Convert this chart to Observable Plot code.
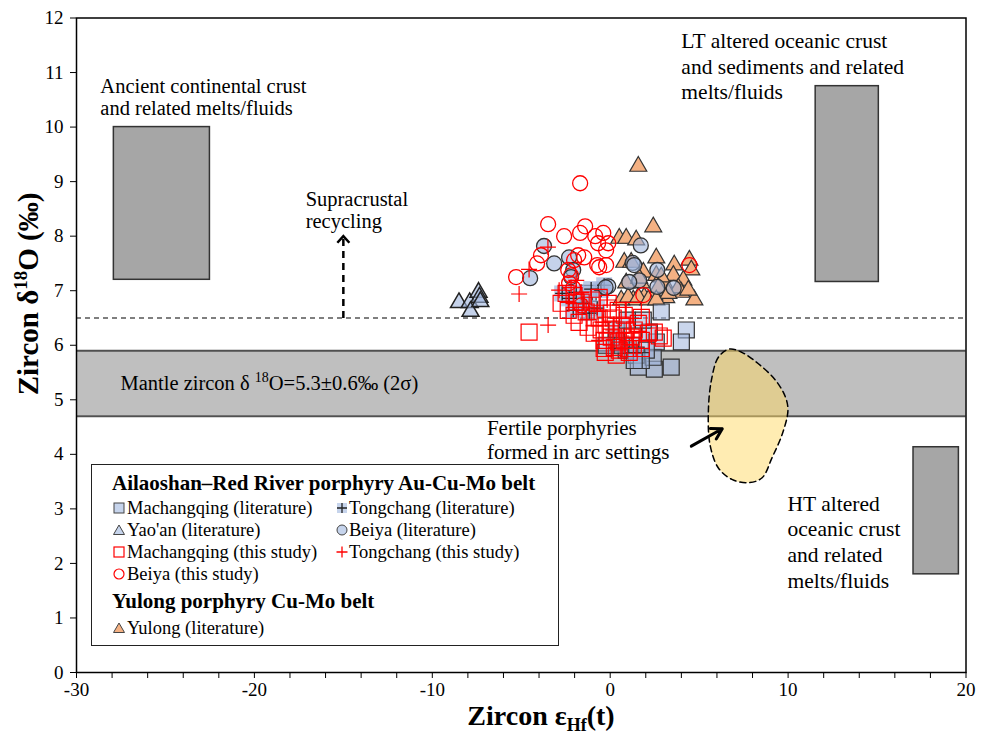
<!DOCTYPE html>
<html><head><meta charset="utf-8">
<script src="https://cdn.jsdelivr.net/npm/d3@7"></script>
<script src="https://cdn.jsdelivr.net/npm/@observablehq/plot@0.6"></script>
<style>
body{margin:0;background:#fff;}
#wrap{position:relative;width:986px;height:737px;font-family:"Liberation Serif","Times New Roman",serif;color:#000;}
#legend{position:absolute;left:91px;top:464px;width:466px;height:180px;border:1.5px solid #222;background:#fff;}
#legend .t{position:absolute;font-weight:bold;font-size:21px;white-space:nowrap;line-height:1;transform:translateY(-50%);}
#legend .i{position:absolute;font-size:18.5px;white-space:nowrap;line-height:1;transform:translateY(-50%);}
#legend svg{position:absolute;overflow:visible;}
</style></head><body>
<div id="wrap"></div>
<script>
const FONT = '"Liberation Serif","Times New Roman",serif';

// ---------------- data (εHf(t), δ18O) ----------------
const yulongLit = [[1.58,9.28],[2.42,8.17],[0.51,7.96],[0.90,7.96],[1.46,7.93],[2.59,7.60],[0.79,7.52],[1.18,7.52],[3.60,7.47],[4.45,7.56],[4.56,7.38],[1.86,7.34],[2.59,7.28],[3.55,7.28],[4.11,7.19],[0.90,7.14],[1.75,7.14],[3.04,7.14],[4.00,6.97],[4.73,6.83],[3.15,6.87],[2.48,6.92],[1.91,6.88],[1.30,6.83],[0.62,6.83],[1.63,7.23],[2.87,7.25],[2.70,7.06],[3.83,7.05],[1.01,6.88],[1.58,6.88],[2.14,6.83],[3.27,6.95],[4.39,7.01],[2.59,6.83]];
const yaoanLit = [[-8.5,6.78],[-7.9,6.78],[-7.85,6.62],[-7.4,6.97],[-7.35,6.88],[-7.3,6.8]];
const machangqingLit = [[4.28,6.28],[4.0,6.06],[3.43,5.60],[2.48,5.56],[1.58,5.60],[2.42,5.78],[2.59,6.06],[2.20,6.24],[1.86,6.46],[2.87,6.61],[0.90,5.91],[1.18,6.0],[0.62,6.0],[0.34,6.09],[-1.24,6.95],[-1.46,6.73],[2.03,5.91],[1.46,5.82],[1.75,5.72],[1.35,5.72],[0.34,6.28],[0.96,6.46],[-0.23,6.0]];
const tongchangLit = [[-2.70,6.95],[-2.31,6.86],[-1.91,6.97],[-1.52,6.77],[-1.07,7.03],[-0.51,7.01],[-1.18,6.59],[-0.73,6.68],[-0.34,7.10],[-2.08,6.64]];
const beiyaLit = [[-3.72,7.82],[-4.50,7.23],[-3.15,7.50],[-2.31,7.61],[-2.08,7.38],[-2.20,7.25],[-0.11,7.08],[1.72,7.83],[1.26,7.51],[2.65,7.38],[3.57,7.05],[2.65,7.07],[1.63,7.19],[1.07,7.16],[1.35,7.47],[-0.26,7.06]];
const machangqingThis = [[-2.48,6.95],[-2.03,6.91],[-1.63,6.79],[-1.07,6.83],[-0.62,6.88],[-0.11,6.77],[0.06,6.59],[0.45,6.64],[0.79,6.55],[-1.75,6.42],[-1.24,6.33],[-0.90,6.22],[-0.51,6.28],[-0.34,6.09],[0.06,6.15],[0.45,6.06],[0.79,6.09],[1.18,6.15],[1.35,6.28],[-0.34,5.94],[0.23,5.96],[1.01,5.94],[1.75,6.09],[2.14,6.22],[2.48,6.24],[-2.76,6.77],[-2.36,6.64],[-2.03,6.55],[-0.90,6.50],[0.62,6.37],[1.58,6.40],[1.75,6.51],[1.30,6.64],[-4.56,6.24],[2.76,6.17],[2.98,6.13],[-1.91,6.79],[-1.35,6.61],[-0.62,6.50],[-0.23,6.37],[0.17,6.50],[0.90,6.28],[0.51,5.91],[1.30,6.0],[-0.28,5.87],[0.34,5.82],[1.07,5.87],[1.75,5.94]];
const tongchangThis = [[-4.56,7.39],[-5.12,6.94],[-3.49,6.37],[-2.87,7.01],[-1.91,7.19],[-3.5,7.8],[-2.20,7.06],[-1.63,6.97],[-1.07,6.88],[-1.35,6.70],[-0.73,6.62],[-0.39,6.42],[-0.17,6.83],[0.17,6.28],[0.62,6.17],[1.18,6.22],[-0.62,6.09]];
const beiyaThis = [[-1.69,8.97],[-3.49,8.22],[-2.59,8.00],[-1.41,8.18],[-0.84,8.00],[-0.68,7.87],[-1.69,8.06],[-3.89,7.65],[-4.11,7.50],[-5.29,7.25],[-1.80,7.65],[-2.36,7.38],[-2.20,7.28],[-0.62,7.43],[-0.23,7.74],[-2.31,7.14],[-2.08,7.05],[-0.39,8.06],[-0.11,7.87],[-0.23,7.47],[4.45,7.47],[1.86,6.92],[-1.46,7.61],[-0.73,7.47],[-2.03,7.56],[-1.63,6.73]];

// reference fields
const reservoirs = [
  {x1:-27.9, x2:-22.5, y1:7.2, y2:10.0},
  {x1:11.55, x2:15.1, y1:7.16, y2:10.75},
  {x1:17.05, x2:19.6, y1:1.8, y2:4.13}
];
const mantleBand = [{x1:-30, x2:20, y1:4.7, y2:5.9}];
const supraLevel = [6.5];
const fertileBlob = [[6.69,5.93],[6.08,5.78],[5.69,5.36],[5.52,4.80],[5.61,4.18],[6.08,3.75],[6.84,3.54],[7.77,3.48],[8.54,3.57],[9.10,3.94],[9.67,4.37],[9.99,4.80],[9.85,5.05],[9.29,5.36],[8.33,5.66],[7.40,5.87]];
const fertileArrow = [{x1:4.56, y1:4.15, x2:6.3, y2:4.47}];
const supraArrow = [{x:-15, y1:6.5, y2:7.95}];
const supraHead = [{x:-15, y:8.0}];

// annotations
const notes = [
  {x:-28.66, y:10.55, text:"Ancient continental crust\nand related melts/fluids", lh:1.05, fs:20.5},
  {x:-17.12, y:8.48, text:"Supracrustal\nrecycling", lh:1.05, fs:20.5},
  {x:4.0, y:11.13, text:"LT altered oceanic crust\nand sediments and related\nmelts/fluids", lh:1.19, fs:21.5},
  {x:-6.93, y:4.27, text:"Fertile porphyries\nformed in arc settings", lh:1.1, fs:21},
  {x:9.97, y:2.41, text:"HT altered\noceanic crust\nand related\nmelts/fluids", lh:1.19, fs:21.5}
];
const mantleNote = [{x:-27.53, y:5.30, text:"Mantle zircon δ ^18O=5.3±0.6‰ (2σ)"}];

const xTicks = d3.range(-30, 21, 2);
const yTicks = d3.range(0, 13, 1);

// ---------------- symbols ----------------
const plusSym = {draw(ctx, size){const r = Math.sqrt(size/Math.PI); ctx.moveTo(-r,0); ctx.lineTo(r,0); ctx.moveTo(0,-r); ctx.lineTo(0,r);}};
const chevron = {draw(ctx, size){const r = Math.sqrt(size/Math.PI); ctx.moveTo(-r,r*1.1); ctx.lineTo(0,0); ctx.lineTo(r,r*1.1);}};

const X = d => d[0], Y = d => d[1];
const BLUE = "#9fb4dc";

const noteMarks = notes.map(n => Plot.text([n], {x:"x", y:"y", text:"text", textAnchor:"start", lineAnchor:"middle", lineHeight:n.lh, fontSize:n.fs, fill:"#000"}));

const chart = Plot.plot({
  width: 986, height: 737,
  marginLeft: 76, marginRight: 20.5, marginTop: 17.5, marginBottom: 65,
  style: {fontFamily: FONT, fontSize: "19px", color: "#000", background: "#fff", overflow: "visible"},
  x: {domain: [-30, 20]},
  y: {domain: [0, 12]},
  marks: [
    Plot.rect(mantleBand, {x1:"x1", x2:"x2", y1:"y1", y2:"y2", fill:"#bfbfbf"}),
    Plot.ruleY(mantleBand.flatMap(d => [d.y1, d.y2]), {stroke:"#505050", strokeWidth:2}),
    Plot.rect(reservoirs, {x1:"x1", x2:"x2", y1:"y1", y2:"y2", fill:"#a6a6a6", stroke:"#333", strokeWidth:1.5}),
    Plot.ruleY(supraLevel, {stroke:"#000", strokeWidth:1.2, strokeDasharray:"5,4"}),
    Plot.line(fertileBlob, {x:X, y:Y, curve:"catmull-rom-closed", fill:"#ffd966", fillOpacity:0.5, stroke:"#000", strokeWidth:1.5, strokeDasharray:"6,4"}),
    Plot.arrow(fertileArrow, {x1:"x1", y1:"y1", x2:"x2", y2:"y2", stroke:"#000", strokeWidth:3, headLength:6}),
    Plot.link(supraArrow, {x1:"x", x2:"x", y1:"y1", y2:"y2", stroke:"#000", strokeWidth:2.5, strokeDasharray:"7,5"}),
    Plot.dot(supraHead, {x:"x", y:"y", symbol:chevron, r:6, stroke:"#000", strokeWidth:2.5, fill:"none"}),
    ...noteMarks,
    Plot.text(mantleNote, {x:"x", y:"y", text:"text", textAnchor:"start", fontSize:20.5, fill:"#000"}),
    // data
    Plot.dot(yulongLit, {x:X, y:Y, symbol:"triangle", r:6.3, fill:"#f4b183", stroke:"#333", strokeWidth:1.2}),
    Plot.dot(yaoanLit, {x:X, y:Y, symbol:"triangle", r:6.3, fill:BLUE, fillOpacity:0.6, stroke:"#222", strokeWidth:1.5}),
    Plot.dot(machangqingLit, {x:X, y:Y, symbol:"square", r:9, fill:BLUE, fillOpacity:0.55, stroke:"#333", strokeWidth:1.2}),
    Plot.dot(tongchangLit, {x:X, y:Y, symbol:"square", r:9, fill:BLUE, fillOpacity:0.7, stroke:"none"}),
    Plot.dot(tongchangLit, {x:X, y:Y, symbol:plusSym, r:7, stroke:"#222", strokeWidth:1.3, fill:"none"}),
    Plot.dot(beiyaLit, {x:X, y:Y, symbol:"circle", r:7.5, fill:BLUE, fillOpacity:0.6, stroke:"#333", strokeWidth:1.3}),
    Plot.dot(machangqingThis, {x:X, y:Y, symbol:"square", r:9, fill:"none", stroke:"#ff0000", strokeWidth:1.2}),
    Plot.dot(tongchangThis, {x:X, y:Y, symbol:plusSym, r:8, fill:"none", stroke:"#ff0000", strokeWidth:1.2}),
    Plot.dot(beiyaThis, {x:X, y:Y, symbol:"circle", r:7.5, fill:"none", stroke:"#ff0000", strokeWidth:1.3}),
    // axes
    Plot.frame({stroke:"#000", strokeWidth:1.5}),
    Plot.axisX({ticks:xTicks, tickFormat:d => d % 10 === 0 ? String(d) : "", tickSize:6, tickPadding:4, fontSize:19, label:null}),
    Plot.axisY({ticks:yTicks, tickFormat:d => String(d), tickSize:6, tickPadding:7, fontSize:19, label:null})
  ]
});

const wrap = document.getElementById("wrap");
wrap.appendChild(chart);
const svg = d3.select(chart);

// superscripts written as ^NN
svg.selectAll("text").each(function(){
  const t = this.textContent;
  if (!t.includes("^")) return;
  const m = t.match(/^(.*)\^(\d+)(.*)$/);
  const sel = d3.select(this);
  sel.text(null);
  sel.append("tspan").text(m[1]);
  sel.append("tspan").attr("font-size", 14).attr("dy", -8).text(m[2]);
  sel.append("tspan").attr("dy", 8).text(m[3]);
});

// axis titles
const yt = svg.append("text").attr("transform", "translate(38,294) rotate(-90)")
  .attr("text-anchor", "middle").attr("font-weight", "bold").attr("font-size", 29).attr("fill", "#000");
yt.append("tspan").text("Zircon δ");
yt.append("tspan").attr("font-size", 19).attr("dy", -11).text("18");
yt.append("tspan").attr("dy", 11).text("O (‰)");
const xt = svg.append("text").attr("x", 541).attr("y", 725)
  .attr("text-anchor", "middle").attr("font-weight", "bold").attr("font-size", 28).attr("fill", "#000");
xt.append("tspan").text("Zircon ε");
xt.append("tspan").attr("font-size", 18).attr("dy", 6).text("Hf");
xt.append("tspan").attr("dy", -6).text("(t)");

// ---------------- legend ----------------
const legendGroups = [
  {title:"Ailaoshan–Red River porphyry Au-Cu-Mo belt", y:18, items:[
    {label:"Machangqing (literature)", sym:"sqBlue", col:0, y:43},
    {label:"Tongchang (literature)", sym:"plusBlue", col:1, y:43},
    {label:"Yao'an (literature)", sym:"triBlue", col:0, y:65},
    {label:"Beiya (literature)", sym:"cirBlue", col:1, y:65},
    {label:"Machangqing (this study)", sym:"sqRed", col:0, y:87},
    {label:"Tongchang (this study)", sym:"plusRed", col:1, y:87},
    {label:"Beiya (this study)", sym:"cirRed", col:0, y:109}
  ]},
  {title:"Yulong porphyry Cu-Mo belt", y:136, items:[
    {label:"Yulong (literature)", sym:"triOrange", col:0, y:163}
  ]}
];
const colSym = [27, 250], colText = [35, 257];
const symSvg = {
  sqBlue: '<rect x="-5" y="-5" width="10" height="10" fill="#c6d4ec" stroke="#444" stroke-width="1"/>',
  plusBlue: '<rect x="-5" y="-5" width="10" height="10" fill="#c6d4ec"/><path d="M-5,0H5M0,-5V5" stroke="#222" stroke-width="1.3"/>',
  triBlue: '<path d="M0,-5L5.5,4.5H-5.5Z" fill="#c6d4ec" stroke="#444" stroke-width="1"/>',
  cirBlue: '<circle r="5" fill="#c6d4ec" stroke="#444" stroke-width="1"/>',
  sqRed: '<rect x="-5" y="-5" width="10" height="10" fill="none" stroke="#ff0000" stroke-width="1.2"/>',
  plusRed: '<path d="M-5.5,0H5.5M0,-5.5V5.5" stroke="#ff0000" stroke-width="1.3"/>',
  cirRed: '<circle r="5" fill="none" stroke="#ff0000" stroke-width="1.2"/>',
  triOrange: '<path d="M0,-5L5.5,4.5H-5.5Z" fill="#f4b183" stroke="#444" stroke-width="1"/>'
};
const leg = d3.select(wrap).append("div").attr("id", "legend");
legendGroups.forEach(g => {
  leg.append("div").attr("class", "t").style("left", "20px").style("top", g.y + "px").text(g.title);
  g.items.forEach(it => {
    leg.append("svg").attr("width", 1).attr("height", 1)
      .style("left", colSym[it.col] + "px").style("top", it.y + "px")
      .html(symSvg[it.sym]);
    leg.append("div").attr("class", "i").style("left", colText[it.col] + "px").style("top", it.y + "px").text(it.label);
  });
});
</script>
</body></html>
